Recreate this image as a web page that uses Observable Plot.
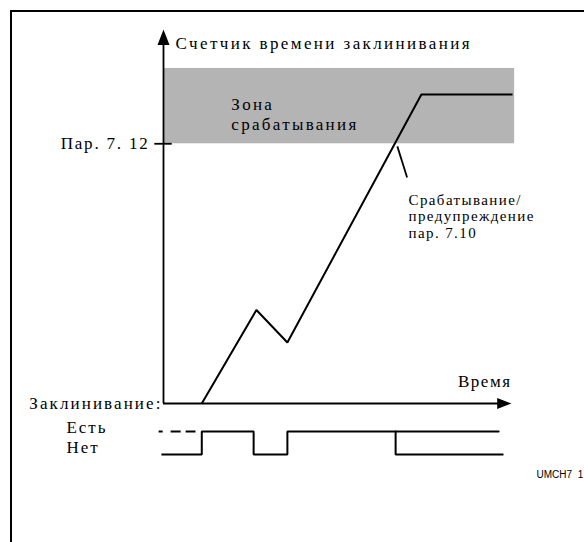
<!DOCTYPE html>
<html><head><meta charset="utf-8">
<script src="https://cdn.jsdelivr.net/npm/d3@7"></script>
<script src="https://cdn.jsdelivr.net/npm/@observablehq/plot@0.6"></script>
<style>
html,body{margin:0;padding:0;background:#fff;overflow:hidden}
#wrap{position:relative;width:584px;height:542px;overflow:hidden}
#frame{position:absolute;left:10px;top:10px;width:700px;height:700px;border-left:2px solid #000;border-top:2px solid #000}
#wrap svg{position:absolute;left:0;top:0}
#wrap svg text.serif{font-family:"Liberation Serif","Times New Roman",serif !important}
#wrap svg text.sans{font-family:"Liberation Sans",Arial,sans-serif !important}
</style></head><body><div id="wrap"><div id="frame"></div></div>
<script>
// ---- data (time in arbitrary units, counter in % of Пар. 7.12) ----
const counterTime  = [1.1, 2.67, 3.56, 7.41, 10.03];
const counterValue = [0, 36, 23.5, 119, 119];
const tripLevel = 100;          // Пар. 7. 12
const zoneTop = 129;            // top of trip zone
const zoneEnd = 10.09;
const stateTime  = [-0.06, 1.1, 2.59, 3.56, 6.67, 9.77];
const stateValue = [0, 1, 0, 1, 0, 0];
const stateHoldTime  = [6.67, 9.63];
const stateHoldValue = [1, 1];
const stateDashTime  = [-0.14, 0.92];
const stateDashValue = [1, 1];
const tickLabels = ["Пар. 7. 12"];
const yTitle = "Счетчик времени заклинивания";
const xTitle = "Время";
const zoneLabel = "Зона\nсрабатывания";
const blockLabel = "Заклинивание:";
const stateLabels = ["Нет", "Есть"];
const noteLabel = "Срабатывание/\nпредупреждение\nпар. 7.10";
const codeLabel = "UMCH7  1";

const W = 584, H = 542;
const serif = "Liberation Serif";
const arrowHead = {draw(ctx, size) {
  const r = Math.sqrt(size / Math.PI);
  ctx.moveTo(0, 0); ctx.lineTo(-r, 2.6 * r); ctx.lineTo(r, 2.6 * r); ctx.closePath();
}};
const common = {width: W, height: H, marginLeft: 163, marginRight: 73,
  style: "background:transparent;overflow:visible"};
const txt = {fontFamily: serif, fontSize: 17, fill: "#000"};

const main = Plot.plot({
  ...common, marginTop: 29, marginBottom: 139,
  x: {domain: [0, 10], axis: null},
  y: {domain: [0, 144], axis: null},
  marks: [
    Plot.rect([0], {x1: 0, x2: zoneEnd, y1: tripLevel, y2: zoneTop, fill: "#b4b4b4"}),
    Plot.ruleX([0], {y1: 0, y2: 140, stroke: "#000", strokeWidth: 1.8}),
    Plot.ruleY([0], {x1: 0, x2: 9.7, stroke: "#000", strokeWidth: 1.8}),
    Plot.ruleY([tripLevel], {x1: -0.25, x2: 0.25, stroke: "#000", strokeWidth: 1.8}),
    Plot.dot([0], {x: 0, y: 144, symbol: arrowHead, r: 6, fill: "#000", stroke: null}),
    Plot.dot([0], {x: 10, y: 0, symbol: arrowHead, r: 5.5, rotate: 90, fill: "#000", stroke: null}),
    Plot.line(counterTime, {x: counterTime, y: counterValue, stroke: "#000", strokeWidth: 2, strokeLinejoin: "miter", strokeLinecap: "butt"}),
    Plot.link([0], {x1: 6.72, y1: 99, x2: 7.0, y2: 87, stroke: "#000", strokeWidth: 1.8}),
    Plot.text([yTitle], {...txt, text: d => d, x: 0, y: 138.4, dx: 12, textAnchor: "start", ariaDescription: "ls24"}),
    Plot.text(tickLabels, {...txt, text: d => d, x: 0, y: tripLevel, dx: -14, textAnchor: "end", ariaDescription: "ls18"}),
    Plot.text([zoneLabel], {...txt, text: d => d, x: 1.95, y: 111.5, lineHeight: 1.15, textAnchor: "start", ariaDescription: "ls22"}),
    Plot.text([xTitle], {...txt, text: d => d, x: 10, y: 8.5, textAnchor: "end", ariaDescription: "ls16"}),
    Plot.text([blockLabel], {...txt, text: d => d, x: 0, y: 0, dx: -1, textAnchor: "end", ariaDescription: "ls21"}),
    Plot.text([noteLabel], {...txt, fontSize: 15, text: d => d, x: 7.04, y: 72.2, lineHeight: 1.1, textAnchor: "start", ariaDescription: "ls14"}),
    Plot.text([codeLabel], {text: d => d, x: 10.72, y: -27.3, textAnchor: "start", fontFamily: "Liberation Sans", fontSize: 10, fill: "#000", ariaDescription: "sans"})
  ]
});

const sig = Plot.plot({
  ...common, marginTop: 431, marginBottom: 88,
  x: {domain: [0, 10], axis: null},
  y: {domain: [0, 1], axis: null},
  marks: [
    Plot.line(stateTime, {x: stateTime, y: stateValue, curve: "step-after", stroke: "#000", strokeWidth: 2, strokeLinejoin: "miter", strokeLinecap: "butt"}),
    Plot.line(stateHoldTime, {x: stateHoldTime, y: stateHoldValue, stroke: "#000", strokeWidth: 2}),
    Plot.line(stateDashTime, {x: stateDashTime, y: stateDashValue, stroke: "#000", strokeWidth: 2, strokeDasharray: "4,8,10,5,10,20", strokeLinecap: "butt"}),
    Plot.text([stateLabels[1]], {...txt, text: d => d, x: -2.79, y: 1, dy: -3.5, textAnchor: "start", ariaDescription: "ls20"}),
    Plot.text([stateLabels[0]], {...txt, text: d => d, x: -2.79, y: 0, dy: -7, textAnchor: "start", ariaDescription: "ls20"})
  ]
});

const wrap = document.getElementById("wrap");
wrap.appendChild(main);
wrap.appendChild(sig);
const spacing = {ls24: 2.4, ls18: 1.8, ls22: 2.3, ls16: 1.5, ls21: 2.1, ls14: 1.4, ls20: 2};
for (const svg of [main, sig]) {
  svg.querySelectorAll("g[aria-description]").forEach(g => {
    const key = g.getAttribute("aria-description");
    const v = spacing[key];
    g.querySelectorAll("text").forEach(t => {
      if (key === "sans") { t.classList.add("sans"); t.style.fontFamily = "'Liberation Sans', Arial, sans-serif"; return; }
      t.classList.add("serif");
      t.style.fontFamily = "'Liberation Serif', 'Times New Roman', serif";
      if (v != null) t.setAttribute("letter-spacing", v);
    });
  });
}
</script></body></html>
